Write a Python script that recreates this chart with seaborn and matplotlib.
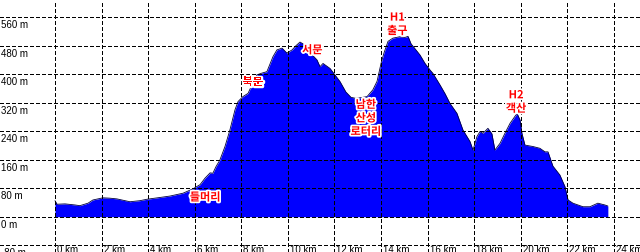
import matplotlib
matplotlib.use("Agg")
import matplotlib.pyplot as plt
import matplotlib.patheffects as pe
import matplotlib.transforms as mtransforms
import seaborn as sns
import pandas as pd

# distance (km) and elevation (m)
dist_km = [0.00, 0.09, 0.43, 0.86, 1.07, 1.42, 1.63, 2.06, 2.36, 2.66, 3.01, 3.22,
           3.65, 3.95, 4.51, 4.94, 5.50, 5.92, 6.23, 6.44, 6.66, 6.78, 6.91, 7.08,
           7.30, 7.51, 7.73, 7.86, 8.07, 8.29, 8.46, 8.67, 8.89, 9.10, 9.36, 9.53,
           9.75, 9.96, 10.18, 10.35, 10.52, 10.65, 10.82, 11.03, 11.25, 11.38, 11.51,
           11.81, 12.02, 12.24, 12.49, 12.71, 12.92, 13.14, 13.40, 13.65, 13.83, 14.00,
           14.13, 14.30, 14.51, 14.81, 15.03, 15.16, 15.29, 15.50, 15.67, 15.89, 16.10,
           16.23, 16.53, 16.75, 16.96, 17.26, 17.52, 17.82, 17.95, 18.12, 18.25, 18.38,
           18.59, 18.76, 18.89, 19.11, 19.32, 19.54, 19.84, 19.97, 20.05, 20.18, 20.52,
           20.82, 21.04, 21.17, 21.38, 21.68, 21.90, 22.03, 22.24, 22.67, 22.97, 23.31,
           23.61, 23.74]
elev_m = [45, 35, 36, 33, 31, 38, 47, 53, 52, 50, 45, 42,
          45, 49, 54, 58, 66, 78, 90, 108, 123, 122, 140, 159,
          197, 243, 300, 323, 337, 346, 370, 398, 403, 407, 449, 468,
          473, 459, 468, 480, 490, 485, 468, 455, 440, 421, 430,
          416, 398, 379, 350, 335, 332, 334, 337, 356, 380, 430,
          460, 492, 501, 505, 503, 506, 485, 468, 454, 430, 412,
          402, 370, 345, 318, 290, 243, 211, 187, 225, 239, 234,
          248, 233, 187, 206, 234, 262, 290, 271, 234, 201, 197,
          192, 182, 182, 142, 117, 84, 47, 38, 28, 28, 38,
          33, 30]

y_ticks = [-80, 0, 80, 160, 240, 320, 400, 480, 560]
x_ticks = [0, 2, 4, 6, 8, 10, 12, 14, 16, 18, 20, 22, 24]

annot_text = ["들머리", "북문", "서문", "H1\n출구", "남한\n산성\n로터리", "H2\n객산"]
annot_x = [6.45, 8.5, 11.05, 14.7, 13.35, 19.8]
annot_y = [55, 378, 468, 541, 277, 323]

df = pd.DataFrame({"km": dist_km, "m": elev_m})

sns.set_style("white")
plt.rcParams["lines.scale_dashes"] = False
plt.rcParams["font.family"] = ["Liberation Sans", "DejaVu Sans"]

fig = plt.figure(figsize=(6.4, 2.52), dpi=100)
ax = fig.add_axes([0, 0, 1, 1])
ax.set_xlim(-2.36, 25.12)
ax.set_ylim(-99, 608)
ax.axis("off")

ax.fill_between(df["km"], 0, df["m"], color="#0000ff", linewidth=0, zorder=1)
sns.lineplot(data=df, x="km", y="m", ax=ax, color="#000040", linewidth=0.6,
             zorder=2, legend=False)

dash = (0, (2.2, 1.45))
for yv in y_ticks:
    ax.axhline(yv, color="black", linewidth=0.75, linestyle=dash, zorder=3,
               antialiased=False)
    ax.text(-2.33, yv, f"{yv} m", fontsize=7, color="black", va="top", ha="left",
            transform=ax.transData + mtransforms.ScaledTranslation(0, -3/100, fig.dpi_scale_trans),
            zorder=5)
for xv in x_ticks:
    ax.axvline(xv, color="black", linewidth=0.75, linestyle=dash, zorder=3,
               antialiased=False)
    ax.text(xv, -80, f"{xv} km", fontsize=7, color="black", va="top", ha="left",
            transform=ax.transData + mtransforms.ScaledTranslation(2/100, 0.5/100, fig.dpi_scale_trans),
            zorder=5)

for t, x, y in zip(annot_text, annot_x, annot_y):
    ax.text(x, y, t, fontsize=8, color="#ff0000", ha="center", va="center",
            family=["Noto Sans CJK KR", "DejaVu Sans"], fontweight="bold",
            linespacing=1.05, zorder=6,
            path_effects=[pe.withStroke(linewidth=2.5, foreground="white")])

fig.savefig("out.png", dpi=100)
